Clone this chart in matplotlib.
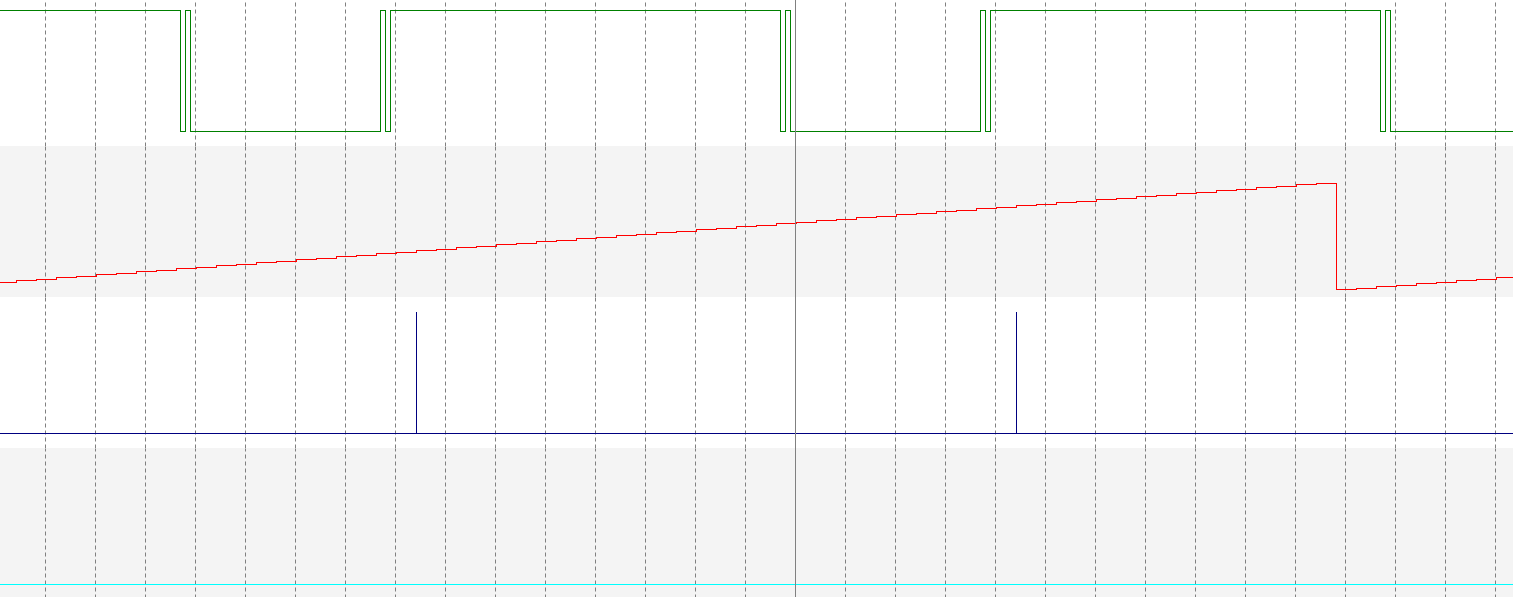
import matplotlib
matplotlib.use('Agg')
import numpy as np
import matplotlib.pyplot as plt

# time axis in grid divisions (one dashed line per division)
t_start, t_end = -0.906, 29.354
cursor_t = 15

# channel 1: digital signal (edges and level after each edge)
green_t = [-1.0, 2.7, 2.8, 2.9, 6.7, 6.8, 6.9, 14.7, 14.8, 14.9,
           18.7, 18.8, 18.9, 26.7, 26.8, 26.9]
green_v = [1, 0, 1, 0, 1, 0, 1, 0, 1, 0, 1, 0, 1, 0, 1, 0]

# channel 2: sampled ramp (first sample time, sample period, values)
red_t0 = -0.98
red_dt = 0.4
red_v = [5, 6, 7, 8, 9, 10, 11, 12, 13, 14, 15, 16, 17, 18, 19, 20, 21, 22,
         23, 24, 25, 26, 27, 28, 29, 30, 31, 32, 33, 34, 35, 36, 37, 38, 39,
         40, 41, 42, 43, 44, 45, 46, 47, 48, 49, 50, 51, 52, 53, 54, 55, 56,
         57, 58, 59, 60, 61, 62, 63, 64, 65, 66, 67, 68, 69, 70, 71,
         0, 1, 2, 3, 4, 5, 6, 7, 8]

# channel 3: trigger pulses
blue_pulses = [7.42, 19.42]

# channel 4: constant level
cyan_level = 0

band = '#f4f4f4'
grid_c = '#808080'
px = 0.72  # one pixel in points at 100 dpi

fig = plt.figure(figsize=(15.13, 5.97), dpi=100)
H = 597.0
row_h = 151.0
row_tops = [-5, 146, 297, 448]
row_bg = ['white', band, 'white', band]

axes = []
for top, bg in zip(row_tops, row_bg):
    ax = fig.add_axes([0, (H - top - row_h) / H, 1, row_h / H])
    ax.set_facecolor(bg)
    ax.set_xlim(t_start, t_end)
    ax.set_xticks([i for i in range(30) if i != cursor_t])
    ax.set_yticks([])
    ax.tick_params(length=0, labelbottom=False, labelleft=False)
    ax.grid(axis='x', color=grid_c, lw=px, ls=(0, (4, 3)))
    for s in ax.spines.values():
        s.set_visible(False)
    ax.axvline(cursor_t, color=grid_c, lw=px, antialiased=False, zorder=3)
    axes.append(ax)

# green digital
ax = axes[0]
gt = np.append(green_t, t_end + 1)
gv = np.append(green_v, green_v[-1])
ax.plot(gt, gv, drawstyle='steps-post', color='#008000', lw=px, antialiased=False)
ax.set_ylim(-0.125, 1.125)

# red staircase
ax = axes[1]
rt = red_t0 + red_dt * np.arange(len(red_v))
rt = np.append(rt, t_end + 1)
rv = np.append(red_v, red_v[-1])
ax.plot(rt, rv, drawstyle='steps-post', color='#ff0000', lw=px, antialiased=False)
ax.set_ylim(-5.133, 95.533)

# blue pulses
ax = axes[2]
bt = [t_start - 1]
bv = [0]
for p in blue_pulses:
    bt += [p, p, p]
    bv += [0, 1, 0]
bt.append(t_end + 1)
bv.append(0)
ax.plot(bt, bv, color='#000080', lw=px, antialiased=False)
ax.set_ylim(-0.125, 1.125)

# cyan level
ax = axes[3]
ax.plot([t_start - 1, t_end + 1], [cyan_level, cyan_level], color='#00ffff',
        lw=px, antialiased=False)
ax.set_ylim(-0.125, 1.125)

fig.savefig('out.png', dpi=100)
